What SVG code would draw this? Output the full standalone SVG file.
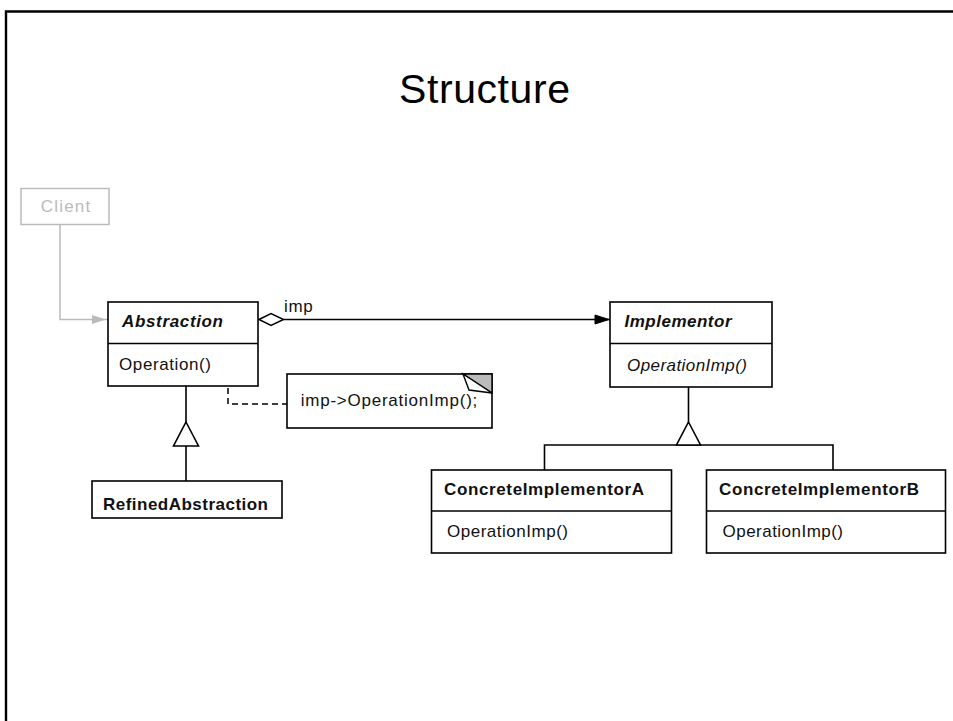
<svg xmlns="http://www.w3.org/2000/svg" width="953" height="721" viewBox="0 0 953 721">
<style>
.box{fill:#fff;stroke:#000;stroke-width:1.6}
.ln{fill:none;stroke:#000;stroke-width:1.6}
.dash{fill:none;stroke:#000;stroke-width:1.5;stroke-dasharray:6,4}
.t{font-family:"Liberation Sans",Arial,sans-serif;font-size:17px;fill:#111}
.b{font-weight:bold}
.i{font-style:italic}
.gray{fill:#bbb}
</style>
<rect x="0" y="0" width="953" height="721" fill="#fff"/>
<path d="M6,721 V11.5 H953" fill="none" stroke="#000" stroke-width="2.4"/>
<text x="484.5" y="103" text-anchor="middle" font-family="'Liberation Sans',Arial,sans-serif" font-size="41" fill="#000" textLength="171">Structure</text>

<g id="connectors">
  <!-- client to abstraction -->
  <path d="M60,225 V319.5 H108" fill="none" stroke="#bbb" stroke-width="1.5"/>
  <polygon points="92,315 106,319.5 92,324" fill="#bbb"/>
  <!-- imp aggregation -->
  <path d="M283.5,319.5 H613" class="ln"/>
  <polygon points="259,319.5 271,313.5 283.5,319.5 271,325.5" fill="#fff" stroke="#000" stroke-width="1.5"/>
  <polygon points="595,315 609,319.5 595,324" fill="#000" stroke="#000" stroke-width="1"/>
  <!-- generalization abstraction -->
  <path d="M186,386 V422 M186,446 V481" class="ln"/>
  <polygon points="186,422 198.5,446 173.5,446" fill="#fff" stroke="#000" stroke-width="1.6"/>
  <!-- generalization implementor -->
  <path d="M688.5,387 V422 M544.5,470 V445 H833 V470" class="ln"/>
  <polygon points="688.5,422 700.5,445 676.5,445" fill="#fff" stroke="#000" stroke-width="1.6"/>
  <!-- note link -->
  <path d="M228,364.5 V386" class="ln"/>
  <circle cx="228" cy="361" r="3.5" fill="#fff" stroke="#000" stroke-width="1.5"/>
  <path d="M228,388 V404 H287" class="dash"/>
  <text x="284" y="312" class="t" font-size="16" textLength="28.7">imp</text>
</g>

<g id="client">
  <rect x="21" y="188.5" width="88" height="36" fill="#fff" stroke="#bbb" stroke-width="1.5"/>
  <text x="40.7" y="212" class="t gray" font-size="15" textLength="49.5">Client</text>
</g>

<g id="abstraction">
  <rect x="108" y="302" width="150" height="84" class="box"/>
  <line x1="108" y1="343.5" x2="258" y2="343.5" class="ln"/>
  <text x="122" y="327" class="t b i" textLength="101">Abstraction</text>
  <text x="119" y="370" class="t" textLength="92">Operation()</text>
</g>

<g id="note">
  <rect x="287" y="374" width="205" height="54" class="box"/>
  <polygon points="463,374 492,374 492,393" fill="#bbb" stroke="#000" stroke-width="1.4"/>
  <polygon points="463,374 469,390 492,393" fill="#fff" stroke="#000" stroke-width="1.4"/>
  <text x="300.7" y="406" class="t" textLength="176.6">imp-&gt;OperationImp();</text>
</g>

<g id="refinedabstraction">
  <rect x="92" y="481" width="190" height="37" class="box"/>
  <text x="103" y="510" class="t b" textLength="165">RefinedAbstraction</text>
</g>

<g id="implementor">
  <rect x="610" y="302" width="162" height="85" class="box"/>
  <line x1="610" y1="343.5" x2="772" y2="343.5" class="ln"/>
  <text x="624.5" y="327" class="t b i" textLength="107">Implementor</text>
  <text x="627" y="371" class="t i" textLength="120">OperationImp()</text>
</g>

<g id="concreteimplementora">
  <rect x="431.5" y="470" width="240" height="83" class="box"/>
  <line x1="431.5" y1="511" x2="671.5" y2="511" class="ln"/>
  <text x="444" y="495" class="t b" textLength="200">ConcreteImplementorA</text>
  <text x="447" y="537" class="t" textLength="121">OperationImp()</text>
</g>

<g id="concreteimplementorb">
  <rect x="706.5" y="470" width="239" height="83" class="box"/>
  <line x1="706.5" y1="511" x2="945.5" y2="511" class="ln"/>
  <text x="719" y="495" class="t b" textLength="200">ConcreteImplementorB</text>
  <text x="722.5" y="537" class="t" textLength="120.5">OperationImp()</text>
</g>
</svg>
